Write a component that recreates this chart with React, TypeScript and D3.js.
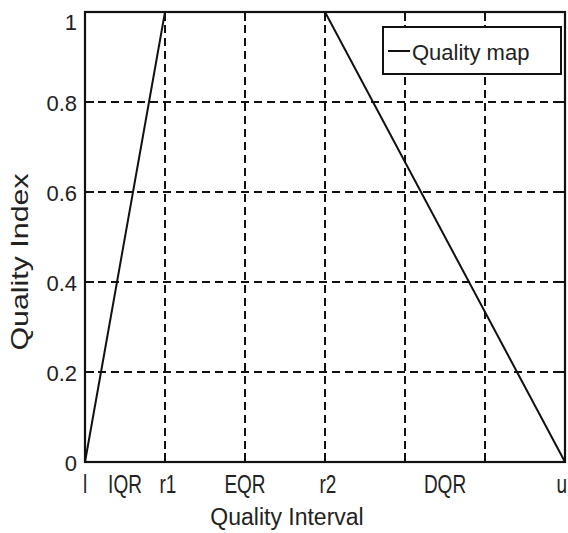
import React, { useEffect, useRef } from "react"
import * as d3 from "d3"

// quality map: rises over IQR, flat over EQR, falls over DQR
const qualityX = [0, 1, 3, 6]
const qualityY = [0, 1, 1, 0]

const xLabelPos = [0, 0.5, 1, 2, 3, 4.5, 6]
const xLabels = ["l", "IQR", "r1", "EQR", "r2", "DQR", "u"]
const xGrid = [1, 2, 3, 4, 5]

const yTicks = [0, 0.2, 0.4, 0.6, 0.8, 1]
const yGrid = [0.2, 0.4, 0.6, 0.8]

const W = 568
const H = 533
const margin = { top: 12, right: 3, bottom: 71, left: 85 }
const FONT = "'Liberation Sans', Arial, sans-serif"

export default function App() {
  const ref = useRef<SVGSVGElement | null>(null)

  useEffect(() => {
    const svg = d3.select(ref.current)
    svg.selectAll("*").remove()

    const x = d3.scaleLinear().domain([0, 6]).range([margin.left, W - margin.right])
    const y = d3.scaleLinear().domain([0, 1]).range([H - margin.bottom, margin.top])

    svg.append("rect").attr("width", W).attr("height", H).attr("fill", "white")

    // dashed grid
    svg
      .selectAll("line.gx")
      .data(xGrid)
      .enter()
      .append("line")
      .attr("x1", (d) => x(d))
      .attr("x2", (d) => x(d))
      .attr("y1", y(0))
      .attr("y2", y(1))
      .attr("stroke", "#111")
      .attr("stroke-width", 2)
      .attr("stroke-dasharray", "8,5")

    svg
      .selectAll("line.gy")
      .data(yGrid)
      .enter()
      .append("line")
      .attr("x1", x(0))
      .attr("x2", x(6))
      .attr("y1", (d) => y(d))
      .attr("y2", (d) => y(d))
      .attr("stroke", "#111")
      .attr("stroke-width", 2)
      .attr("stroke-dasharray", "8,5")

    // inward tick marks
    const tl = 9
    xGrid.forEach((d) => {
      svg.append("line").attr("x1", x(d)).attr("x2", x(d)).attr("y1", y(0)).attr("y2", y(0) - tl).attr("stroke", "#111").attr("stroke-width", 2)
      svg.append("line").attr("x1", x(d)).attr("x2", x(d)).attr("y1", y(1)).attr("y2", y(1) + tl).attr("stroke", "#111").attr("stroke-width", 2)
    })
    yGrid.forEach((d) => {
      svg.append("line").attr("x1", x(0)).attr("x2", x(0) + tl).attr("y1", y(d)).attr("y2", y(d)).attr("stroke", "#111").attr("stroke-width", 2)
      svg.append("line").attr("x1", x(6)).attr("x2", x(6) - tl).attr("y1", y(d)).attr("y2", y(d)).attr("stroke", "#111").attr("stroke-width", 2)
    })

    // the quality map line
    const pts = qualityX.map((d, i) => [d, qualityY[i]] as [number, number])
    const line = d3
      .line<[number, number]>()
      .x((d) => x(d[0]))
      .y((d) => y(d[1]))
    svg
      .append("path")
      .attr("d", line(pts))
      .attr("fill", "none")
      .attr("stroke", "#111")
      .attr("stroke-width", 2)

    // frame
    svg
      .append("rect")
      .attr("x", x(0))
      .attr("y", y(1))
      .attr("width", x(6) - x(0))
      .attr("height", y(0) - y(1))
      .attr("fill", "none")
      .attr("stroke", "#111")
      .attr("stroke-width", 2.2)

    // y tick labels
    svg
      .selectAll("text.yt")
      .data(yTicks)
      .enter()
      .append("text")
      .attr("x", x(0) - 8)
      .attr("y", (d) => Math.max(y(d) + 3, 24))
      .attr("text-anchor", "end")
      .attr("dominant-baseline", "middle")
      .attr("font-family", FONT)
      .attr("font-size", 22)
      .attr("fill", "#222")
      .text((d) => String(d))

    // x tick labels (tall, narrow look)
    const last = xLabels.length - 1
    svg
      .selectAll("text.xt")
      .data(xLabels)
      .enter()
      .append("text")
      .attr("transform", (d, i) => {
        const px = i === last ? W - 1 : x(xLabelPos[i]) + (i === 2 || i === 4 ? 3 : 0)
        return `translate(${px},493) scale(1,1.4)`
      })
      .attr("text-anchor", (d, i) => (i === last ? "end" : "middle"))
      .attr("font-family", FONT)
      .attr("font-size", 19)
      .attr("fill", "#222")
      .text((d) => d)

    // axis titles
    svg
      .append("text")
      .attr("x", 287)
      .attr("y", 525)
      .attr("text-anchor", "middle")
      .attr("font-family", FONT)
      .attr("font-size", 23)
      .attr("fill", "#222")
      .text("Quality Interval")

    svg
      .append("text")
      .attr("transform", "translate(28,262) scale(1,1.32) rotate(-90)")
      .attr("text-anchor", "middle")
      .attr("font-family", FONT)
      .attr("font-size", 23)
      .attr("fill", "#222")
      .text("Quality Index")

    // legend
    const lg = svg.append("g")
    lg.append("rect")
      .attr("x", 383)
      .attr("y", 27)
      .attr("width", 178)
      .attr("height", 47)
      .attr("fill", "white")
      .attr("stroke", "#111")
      .attr("stroke-width", 2)
    lg.append("line").attr("x1", 388).attr("x2", 410).attr("y1", 51).attr("y2", 51).attr("stroke", "#111").attr("stroke-width", 2)
    lg.append("text")
      .attr("x", 412)
      .attr("y", 60)
      .attr("font-family", FONT)
      .attr("font-size", 22)
      .attr("fill", "#222")
      .text("Quality map")
  }, [])

  return (
    <svg
      ref={ref}
      width={W}
      height={H}
      style={{ position: "absolute", left: 0, top: 0, display: "block" }}
    />
  )
}
